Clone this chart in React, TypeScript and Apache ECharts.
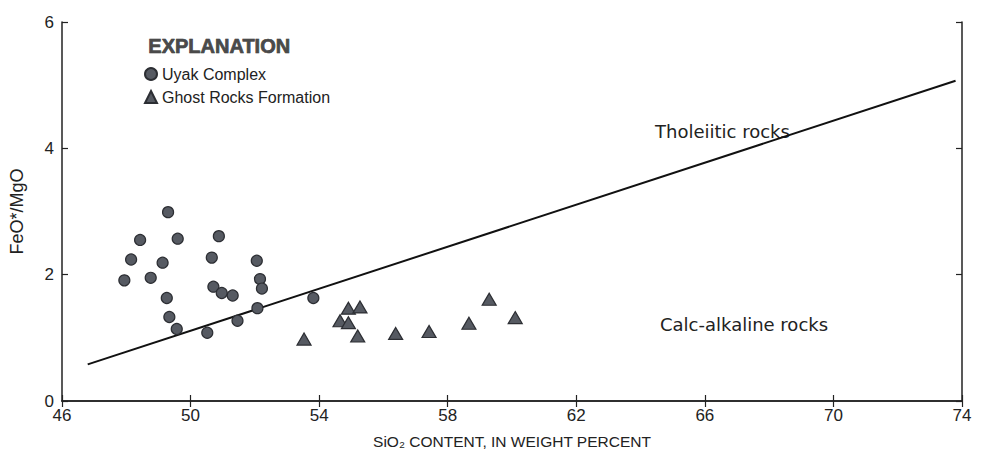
import React, { useEffect, useRef } from "react";
import * as echarts from "echarts";

// SiO2 (wt%) and FeO*/MgO for each sample
const uyakSiO2 = [47.94, 48.15, 48.43, 48.76, 49.13, 49.3, 49.26, 49.34, 49.6, 49.57, 50.52, 50.66, 50.88, 50.71, 50.97, 51.31, 51.46, 52.06, 52.16, 52.22, 52.08, 53.82];
const uyakRatio = [1.91, 2.24, 2.55, 1.95, 2.19, 2.99, 1.63, 1.33, 2.57, 1.14, 1.08, 2.27, 2.61, 1.81, 1.71, 1.67, 1.27, 2.22, 1.93, 1.78, 1.47, 1.63];

const ghostSiO2 = [53.53, 54.65, 54.91, 55.27, 54.91, 55.2, 56.38, 57.42, 58.66, 59.29, 60.1];
const ghostRatio = [0.98, 1.27, 1.47, 1.49, 1.24, 1.03, 1.07, 1.1, 1.23, 1.61, 1.32];

// Tholeiitic / calc-alkaline dividing line
const boundarySiO2 = [46.8, 73.8];
const boundaryRatio = [0.58, 5.07];

const xTicks = { min: 46, max: 74, interval: 4 };
const yTicks = { min: 0, max: 6, interval: 2 };

const seriesNames = ["Uyak Complex", "Ghost Rocks Formation"];

const FONT = "'Liberation Sans', Arial, sans-serif";
const WIDE = "'DejaVu Sans', sans-serif";
const INK = "#222222";
const MARK_FILL = "#565a62";
const MARK_EDGE = "#2c2e33";

export default function App() {
  const ref = useRef<HTMLDivElement>(null);

  useEffect(() => {
    if (!ref.current) return;
    const chart = echarts.init(ref.current, undefined, { renderer: "svg" });

    const pairs = (xs: number[], ys: number[]) => xs.map((x, i) => [x, ys[i]]);

    const axisLine = { show: true, lineStyle: { color: INK, width: 1.5 } };
    const tickIn = { show: true, inside: true, length: 6, lineStyle: { color: INK, width: 1.2 } };

    chart.setOption({
      animation: false,
      backgroundColor: "#ffffff",
      grid: { left: 62, right: 20, top: 22, bottom: 58, containLabel: false },
      xAxis: [
        {
          type: "value",
          position: "bottom",
          ...xTicks,
          axisLine,
          axisTick: tickIn,
          splitLine: { show: false },
          axisLabel: { color: INK, fontSize: 17, fontFamily: FONT, margin: 6 },
          name: "SiO\u2082 CONTENT, IN WEIGHT PERCENT",
          nameLocation: "middle",
          nameGap: 32,
          nameTextStyle: { color: INK, fontSize: 15.5, fontFamily: FONT },
        },
        {
          type: "value",
          position: "top",
          ...xTicks,
          axisLine,
          axisTick: tickIn,
          splitLine: { show: false },
          axisLabel: { show: false },
        },
      ],
      yAxis: [
        {
          type: "value",
          position: "left",
          ...yTicks,
          axisLine,
          axisTick: tickIn,
          splitLine: { show: false },
          axisLabel: { color: INK, fontSize: 17, fontFamily: FONT, margin: 8 },
          name: "FeO*/MgO",
          nameLocation: "middle",
          nameGap: 36,
          nameRotate: 90,
          nameTextStyle: { color: INK, fontSize: 18, fontFamily: FONT },
        },
        {
          type: "value",
          position: "right",
          ...yTicks,
          axisLine,
          axisTick: tickIn,
          splitLine: { show: false },
          axisLabel: { show: false },
        },
      ],
      legend: {
        data: seriesNames,
        orient: "vertical",
        left: 144,
        top: 66,
        padding: 0,
        itemWidth: 12,
        itemHeight: 12,
        itemGap: 7,
        textStyle: { color: INK, fontSize: 16, fontFamily: FONT, lineHeight: 16 },
      },
      graphic: [
        {
          type: "text",
          left: 148,
          top: 36,
          style: {
            text: "EXPLANATION",
            fill: "#4a4a4a",
            stroke: "#222",
            lineWidth: 0.6,
            font: `bold 20px ${FONT}`,
          },
        },
        {
          type: "text",
          left: 655,
          top: 122,
          style: { text: "Tholeiitic rocks", fill: INK, font: `18px ${WIDE}` },
        },
        {
          type: "text",
          left: 660,
          top: 315,
          style: { text: "Calc-alkaline rocks", fill: INK, font: `18px ${WIDE}` },
        },
      ],
      series: [
        {
          type: "line",
          name: "boundary",
          data: pairs(boundarySiO2, boundaryRatio),
          showSymbol: false,
          lineStyle: { color: "#111", width: 2 },
          silent: true,
          z: 1,
        },
        {
          type: "scatter",
          name: seriesNames[0],
          data: pairs(uyakSiO2, uyakRatio),
          symbol: "circle",
          symbolSize: 11,
          itemStyle: { color: MARK_FILL, borderColor: MARK_EDGE, borderWidth: 1.2, opacity: 1 },
          z: 3,
        },
        {
          type: "scatter",
          name: seriesNames[1],
          data: pairs(ghostSiO2, ghostRatio),
          symbol: "triangle",
          symbolSize: [14, 12],
          itemStyle: { color: MARK_FILL, borderColor: MARK_EDGE, borderWidth: 1.2, opacity: 1 },
          z: 3,
        },
      ],
    });

    return () => chart.dispose();
  }, []);

  return (
    <div
      ref={ref}
      style={{ position: "fixed", left: 0, top: 0, width: 982, height: 459 }}
    />
  );
}
